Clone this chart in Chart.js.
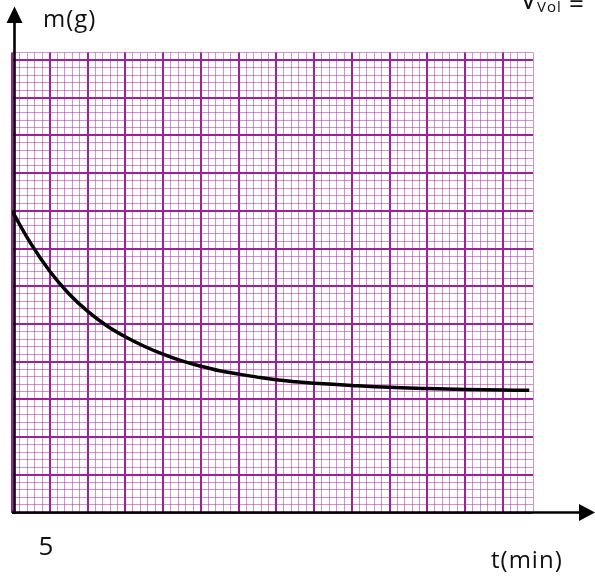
<!DOCTYPE html>
<html>
<head>
<meta charset="utf-8">
<script src="https://cdn.jsdelivr.net/npm/chart.js@4/dist/chart.umd.min.js"></script>
<style>
  html, body { margin: 0; padding: 0; background: #fff; }
  #wrap { position: relative; width: 595px; height: 578px; }
</style>
</head>
<body>
<div id="wrap"><canvas id="graph" width="595" height="578"></canvas></div>
<script>
// time in minutes (1 small square = 1 min, 1 big square = 5 min)
const times = [0, 2.5, 5, 7.5, 10, 12.5, 15, 17.5, 20, 22.5, 25, 27.5, 30, 32.5, 35, 37.5, 40, 45, 50, 55, 60, 65, 68.5];
// mass, read in big squares above the t axis
const masses = [8.0, 7.13, 6.4, 5.81, 5.34, 4.96, 4.66, 4.41, 4.2, 4.02, 3.88, 3.76, 3.67, 3.59, 3.52, 3.47, 3.43, 3.37, 3.32, 3.29, 3.265, 3.25, 3.24];

const xMax = 69;      // paper runs 13 big squares + 4 small
const yMax = 12.2;    // 12 big squares + 1 small
const xTickLabels = ["5"];

const majorColor = "#a01ea0";
const minorColor = "rgba(170, 35, 170, 0.5)";

const axesAndLabels = {
    id: "axesAndLabels",
    afterDatasetsDraw(chart) {
        const ctx = chart.ctx;
        const x0 = chart.scales.x.getPixelForValue(0) + 2.5;
        const y0 = chart.scales.y.getPixelForValue(0);
        ctx.save();
        ctx.strokeStyle = "#000";
        ctx.fillStyle = "#000";
        ctx.lineWidth = 2.6;
        // t axis
        ctx.beginPath();
        ctx.moveTo(12, y0);
        ctx.lineTo(582, y0);
        ctx.stroke();
        ctx.beginPath();
        ctx.moveTo(595, y0);
        ctx.lineTo(579, y0 - 8.5);
        ctx.lineTo(579, y0 + 8.5);
        ctx.closePath();
        ctx.fill();
        // m axis
        ctx.beginPath();
        ctx.moveTo(x0, y0 + 1.3);
        ctx.lineTo(x0, 20);
        ctx.stroke();
        ctx.beginPath();
        ctx.moveTo(x0, 6.5);
        ctx.lineTo(x0 - 8, 23);
        ctx.lineTo(x0 + 8, 23);
        ctx.closePath();
        ctx.fill();

        // labels
        ctx.fillStyle = "#111";
        ctx.textBaseline = "alphabetic";
        ctx.textAlign = "left";
        ctx.font = '24px "Open Sans"';
        ctx.letterSpacing = "1px";
        ctx.fillText("m(g)", 43, 26.7);
        ctx.fillText("t(min)", 491, 568.3);
        ctx.letterSpacing = "0px";
        ctx.font = '26px "Open Sans"';
        ctx.fillText(xTickLabels[0], 38.5, 555);
        // cut-off note at the top right
        ctx.font = '28px "Open Sans"';
        ctx.fillText("V", 520, 8.5);
        ctx.font = '15px "Open Sans"';
        ctx.letterSpacing = "1px";
        ctx.fillText("Vol", 537, 11.8);
        ctx.letterSpacing = "0px";
        ctx.font = '26px "Open Sans"';
        ctx.fillText("=", 569, 13);
        ctx.restore();
    }
};

const ctx = document.getElementById("graph").getContext("2d");
new Chart(ctx, {
    type: "line",
    data: {
        datasets: [{
            data: times.map((t, i) => ({ x: t, y: masses[i] })),
            borderColor: "#000",
            borderWidth: 3.5,
            pointRadius: 0,
            fill: false,
            tension: 0.4
        }]
    },
    options: {
        responsive: false,
        animation: false,
        layout: { padding: { left: 12, top: 52.5, right: 62, bottom: 65.5 } },
        plugins: { legend: { display: false }, tooltip: { enabled: false } },
        scales: {
            x: {
                type: "linear",
                min: 0,
                max: xMax,
                ticks: { display: false, stepSize: 1 },
                border: { display: false },
                grid: {
                    drawTicks: false,
                    color: c => (Math.round(c.tick.value) % 5 === 0 ? majorColor : minorColor),
                    lineWidth: c => (Math.round(c.tick.value) % 5 === 0 ? 2 : 1)
                }
            },
            y: {
                type: "linear",
                min: 0,
                max: yMax,
                ticks: { display: false, stepSize: 0.2 },
                border: { display: false },
                grid: {
                    drawTicks: false,
                    color: c => (Math.round(c.tick.value * 5) % 5 === 0 ? majorColor : minorColor),
                    lineWidth: c => (Math.round(c.tick.value * 5) % 5 === 0 ? 2 : 1)
                }
            }
        }
    },
    plugins: [axesAndLabels]
});
</script>
</body>
</html>
